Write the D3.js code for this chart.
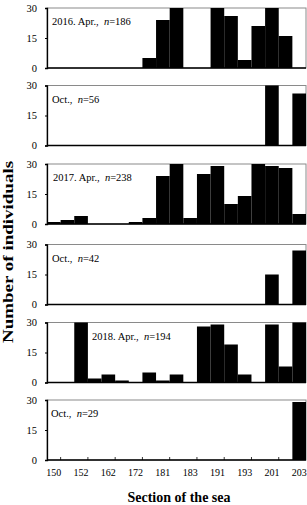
<!DOCTYPE html>
<html>
<head>
<meta charset="utf-8">
<script src="https://cdn.jsdelivr.net/npm/d3@7"></script>
<style>
  body { margin: 0; background: #fff; }
  text { font-family: "Liberation Serif", "Times New Roman", serif; fill: #000; }
</style>
</head>
<body>
<svg id="chart"></svg>
<script>
// sections along the x axis, only every other one carries a label
const sectionLabels = ["150", "", "152", "", "162", "", "172", "", "181", "", "183", "", "191", "", "193", "", "201", "", "203"];
const yTicks = [0, 15, 30];

const panelNames = ["2016. Apr.,", "Oct.,", "2017. Apr.,", "Oct.,", "2018. Apr.,", "Oct.,"];
const panelN = [186, 56, 238, 42, 194, 29];

const apr2016 = [0, 0, 0, 0, 0, 0, 0, 5, 24, 30, 0, 0, 30, 26, 4, 21, 30, 16, 0];
const oct2016 = [0, 0, 0, 0, 0, 0, 0, 0, 0, 0, 0, 0, 0, 0, 0, 0, 30, 0, 26];
const apr2017 = [1, 2, 4, 0, 0, 0, 1, 3, 24, 30, 3, 25, 29, 10, 14, 30, 29, 28, 5];
const oct2017 = [0, 0, 0, 0, 0, 0, 0, 0, 0, 0, 0, 0, 0, 0, 0, 0, 15, 0, 27];
const apr2018 = [0, 0, 30, 2, 4, 1, 0, 5, 1, 4, 0, 28, 29, 19, 4, 0, 29, 8, 30];
const oct2018 = [0, 0, 0, 0, 0, 0, 0, 0, 0, 0, 0, 0, 0, 0, 0, 0, 0, 0, 29];

const series = [apr2016, oct2016, apr2017, oct2017, apr2018, oct2018];

const width = 307, height = 505;
const left = 47, right = 306;
const panelTops = [8, 85.5, 164, 244.5, 322.5, 400];
const panelH = 60;
const labelX = [52, 52, 53, 52, 92, 51];

const svg = d3.select("#chart")
  .attr("width", width)
  .attr("height", height);

const x = d3.scaleBand()
  .domain(d3.range(sectionLabels.length))
  .range([left, right])
  .padding(0);

series.forEach(function(values, p) {
  const top = panelTops[p];
  const y = d3.scaleLinear()
    .domain([0, 30])
    .range([top + panelH, top]);

  const g = svg.append("g");

  // frame (top and right are lighter)
  g.append("rect")
    .attr("x", left)
    .attr("y", top)
    .attr("width", right - left)
    .attr("height", panelH)
    .attr("fill", "none")
    .attr("stroke", "#8a8a8a")
    .attr("stroke-width", 1);

  g.selectAll(".bar")
    .data(values)
    .enter()
    .append("rect")
      .attr("class", "bar")
      .attr("x", (d, i) => x(i))
      .attr("y", d => y(Math.min(d, 30)))
      .attr("width", x.bandwidth())
      .attr("height", d => y(0) - y(Math.min(d, 30)))
      .attr("fill", "#000");

  // y axis
  const yAxis = g.append("g")
    .attr("transform", `translate(${left},0)`)
    .call(d3.axisLeft(y).tickValues(yTicks).tickSize(2).tickPadding(8));
  yAxis.select(".domain").attr("stroke", "#000").attr("stroke-width", 1.3);
  yAxis.selectAll("text").style("font-size", "10.5px").style("font-family", "Liberation Serif");

  // bottom line
  g.append("line")
    .attr("x1", left)
    .attr("x2", right)
    .attr("y1", y(0))
    .attr("y2", y(0))
    .attr("stroke", "#000")
    .attr("stroke-width", 1.3);

  // panel label
  const t = g.append("text")
    .attr("x", labelX[p])
    .attr("y", top + 17)
    .style("font-size", "10.5px");
  t.append("tspan").text(panelNames[p] + "\u00a0\u00a0");
  t.append("tspan").style("font-style", "italic").text("n");
  t.append("tspan").text("=" + panelN[p]);
});

// x axis on the last panel
const lastBottom = panelTops[5] + panelH;
const xAxis = svg.append("g")
  .attr("transform", `translate(0,${lastBottom})`)
  .call(d3.axisBottom(x).tickFormat(i => sectionLabels[i]).tickSize(0).tickPadding(9));
xAxis.select(".domain").remove();
xAxis.selectAll("text").style("font-size", "10px").style("font-family", "Liberation Serif");

// small inward ticks between labelled sections
svg.append("g")
  .selectAll("line")
  .data(sectionLabels.filter((d, i) => i % 2 === 1).map((d, i) => 2 * i + 1))
  .enter()
  .append("line")
    .attr("x1", i => x(i))
    .attr("x2", i => x(i))
    .attr("y1", lastBottom)
    .attr("y2", lastBottom - 3)
    .attr("stroke", "#000")
    .attr("stroke-width", 0.8);

// axis titles
svg.append("text")
  .attr("text-anchor", "middle")
  .attr("transform", "translate(13,252) rotate(-90) scale(1,0.8)")
  .style("font-size", "19px")
  .style("font-weight", "bold")
  .text("Number of individuals");

svg.append("text")
  .attr("text-anchor", "middle")
  .attr("x", 179)
  .attr("y", 502)
  .style("font-size", "14px")
  .style("font-weight", "bold")
  .text("Section of the sea");
</script>
</body>
</html>
